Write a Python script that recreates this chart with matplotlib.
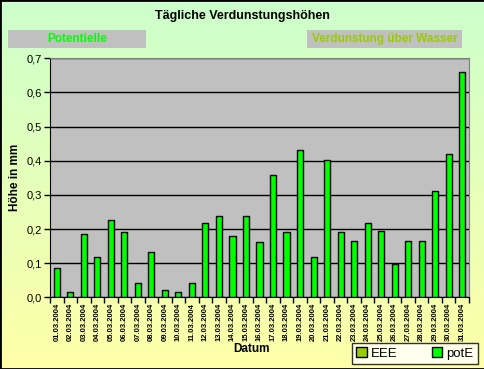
import numpy as np
import matplotlib
matplotlib.use("Agg")
import matplotlib.pyplot as plt
from matplotlib.patches import Rectangle, Patch

plt.rcParams['font.family'] = ['Liberation Sans', 'DejaVu Sans']

# data
dates = ["%02d.03.2004" % d for d in range(1, 32)]
pot_e = [0.085, 0.015, 0.185, 0.117, 0.226, 0.19, 0.041, 0.132, 0.021, 0.015,
         0.041, 0.217, 0.237, 0.179, 0.237, 0.161, 0.357, 0.19, 0.431, 0.117,
         0.401, 0.19, 0.164, 0.217, 0.193, 0.097, 0.164, 0.164, 0.311, 0.419,
         0.659]
eee = [0.0] * 31

W, H = 485, 369
fig = plt.figure(figsize=(W / 100, H / 100), dpi=100)

# background gradient, light green at the top to light yellow at the bottom
bg = fig.add_axes([0, 0, 1, 1])
top = np.array([0xCC, 0xFF, 0xCC]) / 255
bot = np.array([0xFF, 0xFF, 0xA8]) / 255
t = np.linspace(0, 1, 256)[:, None]
grad = top[None, :] * (1 - t) + bot[None, :] * t
bg.imshow(grad[:, None, :], aspect='auto', extent=[0, 1, 0, 1])
bg.set_xlim(0, 1)
bg.set_ylim(0, 1)
bg.axis('off')
bg.add_patch(Rectangle((0, 0), 1, 1, transform=bg.transAxes, fill=False,
                       edgecolor='black', linewidth=2, clip_on=False))

def fx(px):
    return px / W

def fy(py):
    return 1 - py / H

# plot area in pixels
left, right, ptop, pbot = 50, 469, 58.3, 297.3
ax = fig.add_axes([fx(left), fy(pbot), fx(right) - fx(left), (pbot - ptop) / H])
ax.set_facecolor('#C0C0C0')

x = np.arange(len(dates))
ax.bar(x, pot_e, width=0.45, color='#00FF00', edgecolor='black', linewidth=1, zorder=3)
ax.set_xlim(-0.5, len(dates) - 0.5)
ax.set_ylim(0, 0.7)

yt = np.arange(0, 0.71, 0.1)
ax.set_yticks(yt)
ax.set_yticklabels([("%.1f" % v).replace('.', ',') for v in yt], fontsize=8)
ax.yaxis.grid(True, color='black', linewidth=1)
ax.set_axisbelow(True)
ax.tick_params(axis='y', length=4, width=1, direction='out', pad=2)

ax.set_xticks(x)
ax.set_xticklabels(dates, rotation=90, fontsize=5.5, fontweight='bold')
ax.set_xticks(np.arange(-0.5, len(dates)), minor=True)
ax.tick_params(axis='x', which='major', length=0, pad=4)
ax.tick_params(axis='x', which='minor', length=4, width=1, direction='out')

for s in ['top', 'right']:
    ax.spines[s].set_color('#808080')
for s in ['left', 'bottom']:
    ax.spines[s].set_color('black')

ax.set_ylabel('Höhe in mm', fontsize=8.5, fontweight='bold')
ax.yaxis.set_label_coords((21 - left) / (right - left), 0.5)
fig.text(fx(252), fy(349), 'Datum', fontsize=8.5, fontweight='bold',
         ha='center', va='center')

fig.text(0.5, fy(16), 'Tägliche Verdunstungshöhen', fontsize=9,
         fontweight='bold', ha='center', va='center')

# grey header boxes
bg.add_patch(Rectangle((fx(8), fy(48)), fx(146) - fx(8), 18 / H,
                       facecolor='#C0C0C0', edgecolor='none'))
bg.add_patch(Rectangle((fx(307), fy(48)), fx(462) - fx(307), 18 / H,
                       facecolor='#C0C0C0', edgecolor='none'))
fig.text(fx(77), fy(39), 'Potentielle', color='#00FF00', fontsize=8.5,
         fontweight='bold', ha='center', va='center')
fig.text(fx(384.5), fy(39), 'Verdunstung über Wasser', color='#99CC00',
         fontsize=8.5, fontweight='bold', ha='center', va='center')

# legend
handles = [Patch(facecolor='#99CC00', edgecolor='black', label='EEE'),
           Patch(facecolor='#00FF00', edgecolor='black', label='potE')]
leg = fig.legend(handles=handles, loc='center', ncol=2,
                 bbox_to_anchor=(fx(415), fy(353.5)), fontsize=9.5,
                 frameon=True, fancybox=False, edgecolor='black',
                 handlelength=0.8, handleheight=0.8, handletextpad=0.3,
                 columnspacing=2.6, borderpad=0.35)
leg.get_frame().set_linewidth(1)
leg.get_frame().set_facecolor('white')

fig.savefig('out.png', dpi=100)
